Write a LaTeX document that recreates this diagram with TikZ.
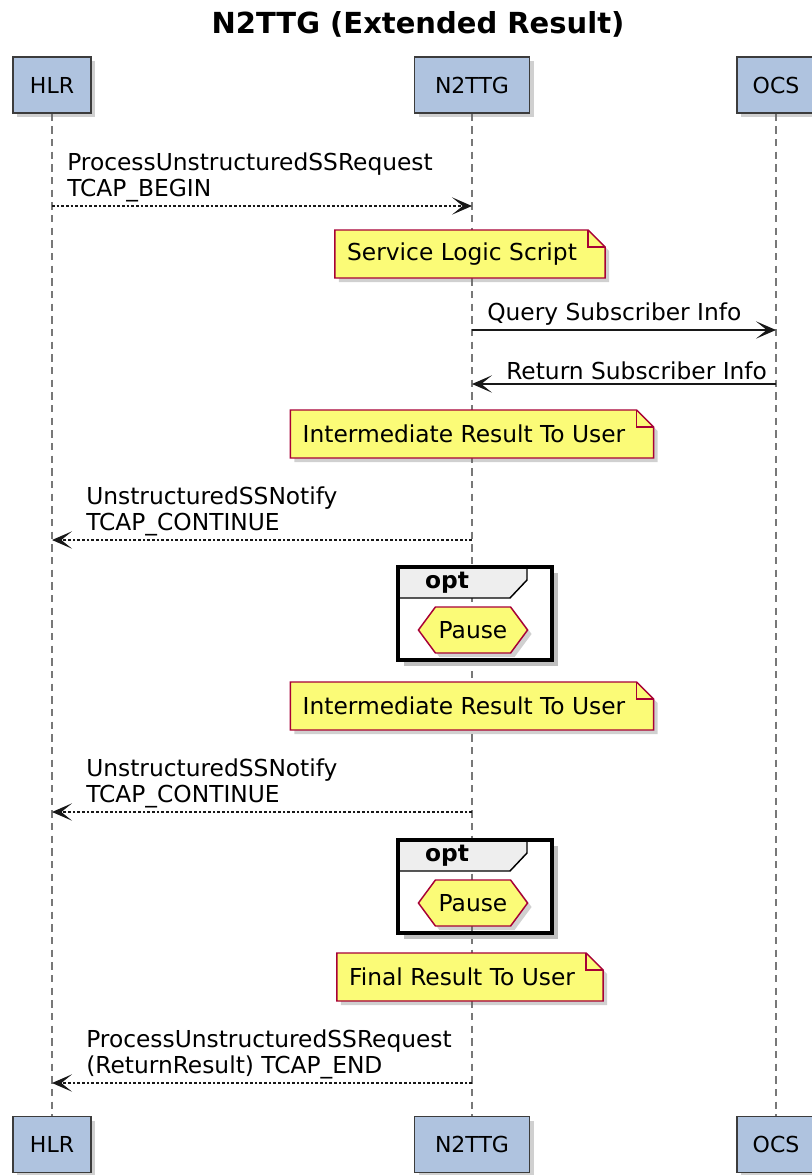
\documentclass[tikz,border=0pt]{standalone}
\usepackage{fontspec}
\setmainfont{DejaVu Sans}
\usetikzlibrary{arrows.meta,shadows,backgrounds}
\definecolor{actorblue}{RGB}{175,195,223}
\definecolor{actorline}{RGB}{60,60,60}
\definecolor{noteyellow}{RGB}{251,251,119}
\definecolor{notered}{RGB}{168,0,54}
\definecolor{tabgray}{RGB}{238,238,238}
\definecolor{lifegray}{RGB}{120,120,120}
\definecolor{ink}{RGB}{24,24,24}
\tikzset{
  softshadow/.style={drop shadow={shadow xshift=3pt, shadow yshift=-3pt, opacity=.3, fill=black!60}},
  actor/.style={
    draw=actorline, fill=actorblue, line width=1.1pt,
    minimum height=42pt, inner sep=0pt,
    font=\fontsize{16.5}{20}\selectfont, softshadow
  },
  lifeline/.style={draw=lifegray, line width=2pt, dash pattern=on 5.5pt off 4pt},
  msg/.style={draw=ink, line width=1.1pt, -{Stealth[length=15pt,width=13pt,inset=8pt]}},
  reply/.style={msg, dash pattern=on 2pt off 1.5pt},
  txt/.style={inner sep=0pt, font=\fontsize{17.5}{19.5}\selectfont, align=left},
  noteshape/.style={fill=noteyellow, draw=notered, line width=1.1pt, softshadow},
  notefold/.style={draw=notered, line width=1.1pt},
  pauseshape/.style={fill=noteyellow, draw=notered, line width=1.1pt, softshadow},
  opttab/.style={fill=tabgray, draw=black, line width=1.1pt},
  optframe/.style={draw=black, line width=2.4pt},
  optshadow/.style={draw=black!25, line width=3pt}
}
\newcommand\drawnote[1]{%
  \filldraw[noteshape] ([shift={(-12,-24)}]#1.west) -- ([shift={(11,-24)}]#1.east)
    -- ([shift={(28,-7)}]#1.east) -- ([shift={(28,24)}]#1.east)
    -- ([shift={(-12,24)}]#1.west) -- cycle;
  \draw[notefold] ([shift={(11,-24)}]#1.east) -- ([shift={(11,-7)}]#1.east)
    -- ([shift={(28,-7)}]#1.east);
}
\begin{document}
\begin{tikzpicture}[x=0.75pt, y=-0.75pt]
  \useasboundingbox (0,0) rectangle (812,1175);

  \node[font=\bfseries\fontsize{21.75}{26}\selectfont] (title) at (418,24) {N2TTG (Extended Result)};

  \foreach \id/\x/\w/\lbl in {hlr/52/58.5pt/HLR, n2ttg/472/86.25pt/N2TTG, ocs/776/58.5pt/OCS} {
    \node[actor, minimum width=\w] (\id) at (\x,85) {\lbl};
    \node[actor, minimum width=\w] (\id-b) at (\x,1144.5) {\lbl};
  }

  \foreach \k/\y in {1/206, 2/330, 3/384, 4/540, 5/812, 6/1083} {
    \coordinate (h\k) at (hlr |- 0,\y);
    \coordinate (n\k) at (n2ttg |- 0,\y);
    \coordinate (o\k) at (ocs |- 0,\y);
  }

  \node[txt] (note1) at (462,254) {Service Logic Script};
  \node[txt] (note2) at (464,434) {Intermediate Result To User};
  \node[txt] (note3) at (464,706) {Intermediate Result To User};
  \node[txt] (note4) at (462,977) {Final Result To User};

  \foreach \k/\y in {1/567, 2/840} {
    \coordinate (opt\k) at (398,\y);
    \node[font=\bfseries\fontsize{17.5}{20}\selectfont, inner sep=0pt] (optlbl\k) at ([shift={(49,16)}]opt\k) {opt};
    \node[txt] (pause\k) at ([shift={(75,63)}]opt\k) {Pause};
  }

  \begin{pgfonlayer}{background}
    \fill[white] (0,0) rectangle (812,1175);
    \foreach \id in {hlr, n2ttg, ocs}
      \draw[lifeline] (\id.south) -- (\id-b.north);
    \foreach \k in {1,2} {
      \draw[optshadow] ([shift={(158,6)}]opt\k) |- ([shift={(6,97)}]opt\k);
      \filldraw[opttab] (opt\k) -- ++(129,0) -- ++(0,13) -- ++(-17,18) -- ++(-112,0) -- cycle;
      \draw[optframe] (opt\k) rectangle ++(154,93);
      \filldraw[pauseshape] ([shift={(-20,0)}]pause\k.west) -- ([shift={(-3,-23)}]pause\k.west)
        -- ([shift={(3,-23)}]pause\k.east) -- ([shift={(20,0)}]pause\k.east)
        -- ([shift={(3,23)}]pause\k.east) -- ([shift={(-3,23)}]pause\k.west) -- cycle;
    }
    \foreach \k in {1,...,4} {
      \drawnote{note\k}
    }
  \end{pgfonlayer}

  \draw[reply] (h1) -- (n1);
  \node[txt, anchor=south west] (lbl1) at ([shift={(15,-4)}]h1) {ProcessUnstructuredSSRequest\\TCAP\_BEGIN};
  \draw[msg] (n2) -- (o2);
  \node[txt, anchor=south west] (lbl2) at ([shift={(15,-4)}]n2) {Query Subscriber Info};
  \draw[msg] (o3) -- (n3);
  \node[txt, anchor=south west] (lbl3) at ([shift={(34,-4)}]n3) {Return Subscriber Info};
  \draw[reply] (n4) -- (h4);
  \node[txt, anchor=south west] (lbl4) at ([shift={(34,-4)}]h4) {UnstructuredSSNotify\\TCAP\_CONTINUE};
  \draw[reply] (n5) -- (h5);
  \node[txt, anchor=south west] (lbl5) at ([shift={(34,-4)}]h5) {UnstructuredSSNotify\\TCAP\_CONTINUE};
  \draw[reply] (n6) -- (h6);
  \node[txt, anchor=south west] (lbl6) at ([shift={(34,-4)}]h6) {ProcessUnstructuredSSRequest\\(ReturnResult) TCAP\_END};
\end{tikzpicture}
\end{document}
